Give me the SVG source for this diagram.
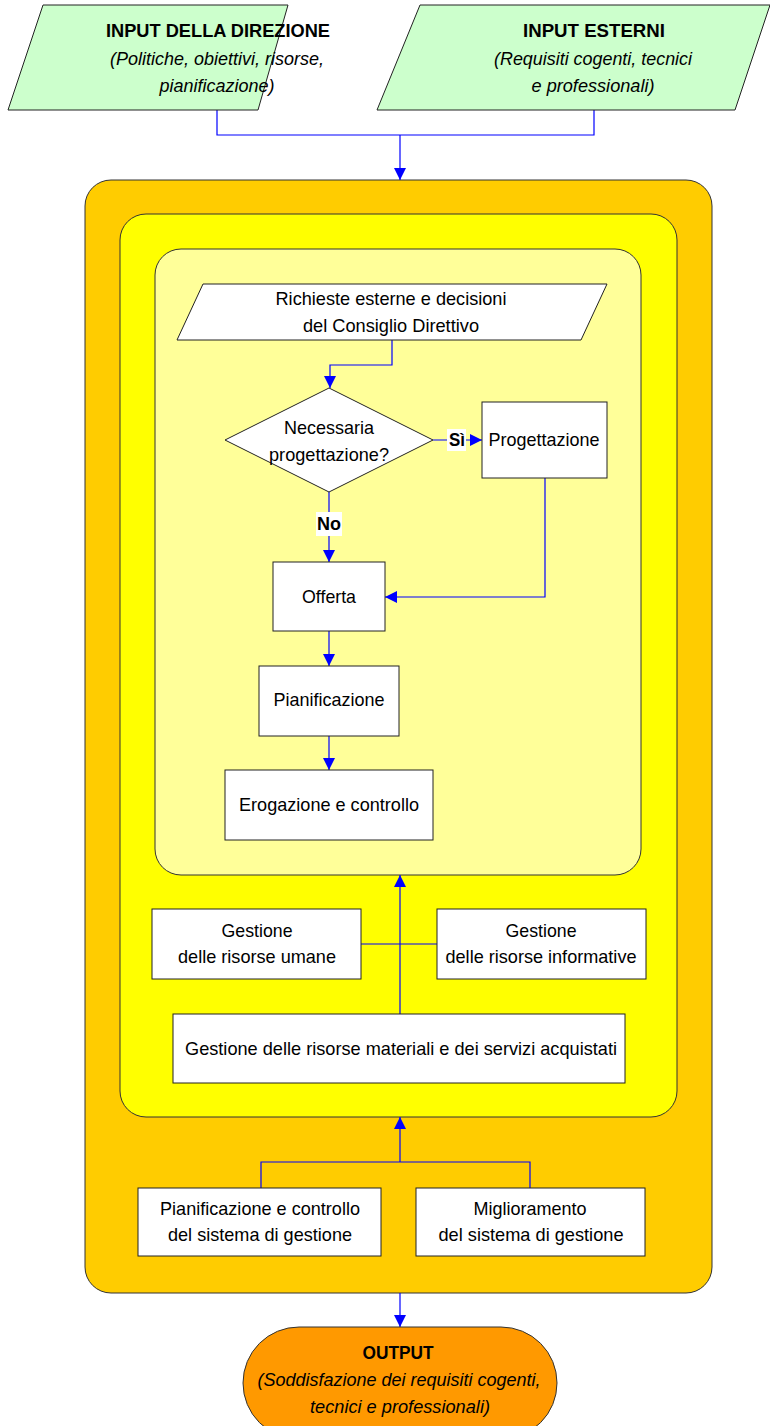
<svg xmlns="http://www.w3.org/2000/svg" width="770" height="1426" viewBox="0 0 770 1426">
<style>
text{font-family:"Liberation Sans Narrow","Arial Narrow","Liberation Sans",sans-serif;font-size:19px;fill:#000;text-anchor:middle}
.b{font-weight:bold}
.i{font-style:italic}
.box{fill:#fff;stroke:#222;stroke-width:1}
.in{fill:#CCFFCC;stroke:#222;stroke-width:1}
.c{fill:none;stroke:#0000FF;stroke-width:1.2}
.lbl{fill:#fff}
</style>
<defs>
<marker id="ah" viewBox="0 0 12 12" refX="12" refY="6" markerWidth="12" markerHeight="12" markerUnits="userSpaceOnUse" orient="auto">
<path d="M0,0 L12,6 L0,12 z" fill="#0000FF"/>
</marker>
</defs>

<g id="container-outer"><rect x="85" y="180" width="627" height="1113" rx="26" fill="#FFCC00" stroke="#333"/></g>
<g id="container-middle"><rect x="120" y="214" width="557" height="903" rx="26" fill="#FFFF00" stroke="#333"/></g>
<g id="container-inner"><rect x="155" y="249" width="486" height="626" rx="26" fill="#FFFF99" stroke="#333"/></g>

<g id="connectors">
<path class="c" d="M217,110 V135 H594 V110"/>
<path class="c" d="M400,135 V180" marker-end="url(#ah)"/>
<path class="c" d="M392,340 V365 H330 V388" marker-end="url(#ah)"/>
<path class="c" d="M433,440 H482" marker-end="url(#ah)"/>
<path class="c" d="M329,492 V562" marker-end="url(#ah)"/>
<path class="c" d="M545,478 V597 H385" marker-end="url(#ah)"/>
<path class="c" d="M329,631 V666" marker-end="url(#ah)"/>
<path class="c" d="M329,736 V770" marker-end="url(#ah)"/>
<path class="c" d="M361,944 H437"/>
<path class="c" d="M400,1014 V875" marker-end="url(#ah)"/>
<path class="c" d="M261,1188 V1162 H530 V1188"/>
<path class="c" d="M400,1162 V1117" marker-end="url(#ah)"/>
<path class="c" d="M400,1293 V1327" marker-end="url(#ah)"/>
<rect class="lbl" x="447" y="429" width="19" height="22"/>
<text class="b" x="457" y="446" textLength="16" lengthAdjust="spacingAndGlyphs">Sì</text>
<rect class="lbl" x="316" y="512" width="26" height="24"/>
<text class="b" x="329" y="530" textLength="24" lengthAdjust="spacingAndGlyphs">No</text>
</g>

<g id="input-direzione">
<polygon class="in" points="43,5 288,5 258,110 8,110"/>
<text class="b" x="218" y="37" textLength="224" lengthAdjust="spacingAndGlyphs">INPUT DELLA DIREZIONE</text>
<text class="i" x="217" y="65" textLength="214" lengthAdjust="spacingAndGlyphs">(Politiche, obiettivi, risorse,</text>
<text class="i" x="217" y="92" textLength="115" lengthAdjust="spacingAndGlyphs">pianificazione)</text>
</g>
<g id="input-esterni">
<polygon class="in" points="420,5 770,5 735,110 377,110"/>
<text class="b" x="594" y="37" textLength="142" lengthAdjust="spacingAndGlyphs">INPUT ESTERNI</text>
<text class="i" x="593" y="65" textLength="198" lengthAdjust="spacingAndGlyphs">(Requisiti cogenti, tecnici</text>
<text class="i" x="593" y="92" textLength="123" lengthAdjust="spacingAndGlyphs">e professionali)</text>
</g>

<g id="richieste">
<polygon class="box" points="203,284 607,284 581,340 177,340"/>
<text x="391" y="305" textLength="231" lengthAdjust="spacingAndGlyphs">Richieste esterne e decisioni</text>
<text x="391" y="332" textLength="176" lengthAdjust="spacingAndGlyphs">del Consiglio Direttivo</text>
</g>
<g id="decisione">
<polygon class="box" points="329,388 433,440 329,492 225,440"/>
<text x="329" y="434" textLength="90" lengthAdjust="spacingAndGlyphs">Necessaria</text>
<text x="329" y="461" textLength="120" lengthAdjust="spacingAndGlyphs">progettazione?</text>
</g>
<g id="progettazione">
<rect class="box" x="482" y="402" width="125" height="76"/>
<text x="544" y="446" textLength="111" lengthAdjust="spacingAndGlyphs">Progettazione</text>
</g>
<g id="offerta">
<rect class="box" x="273" y="562" width="112" height="69"/>
<text x="329" y="603" textLength="54" lengthAdjust="spacingAndGlyphs">Offerta</text>
</g>
<g id="pianificazione">
<rect class="box" x="259" y="666" width="140" height="70"/>
<text x="329" y="706" textLength="111" lengthAdjust="spacingAndGlyphs">Pianificazione</text>
</g>
<g id="erogazione">
<rect class="box" x="225" y="770" width="208" height="70"/>
<text x="329" y="811" textLength="180" lengthAdjust="spacingAndGlyphs">Erogazione e controllo</text>
</g>

<g id="risorse-umane">
<rect class="box" x="152" y="909" width="209" height="70"/>
<text x="257" y="937" textLength="71" lengthAdjust="spacingAndGlyphs">Gestione</text>
<text x="257" y="963" textLength="158" lengthAdjust="spacingAndGlyphs">delle risorse umane</text>
</g>
<g id="risorse-informative">
<rect class="box" x="437" y="909" width="209" height="70"/>
<text x="541" y="937" textLength="71" lengthAdjust="spacingAndGlyphs">Gestione</text>
<text x="541" y="963" textLength="191" lengthAdjust="spacingAndGlyphs">delle risorse informative</text>
</g>
<g id="risorse-materiali">
<rect class="box" x="173" y="1014" width="452" height="69"/>
<text x="401" y="1055" textLength="432" lengthAdjust="spacingAndGlyphs">Gestione delle risorse materiali e dei servizi acquistati</text>
</g>

<g id="pianificazione-sistema">
<rect class="box" x="138" y="1188" width="243" height="68"/>
<text x="260" y="1215" textLength="200" lengthAdjust="spacingAndGlyphs">Pianificazione e controllo</text>
<text x="260" y="1241" textLength="184" lengthAdjust="spacingAndGlyphs">del sistema di gestione</text>
</g>
<g id="miglioramento">
<rect class="box" x="416" y="1188" width="229" height="68"/>
<text x="530" y="1215" textLength="113" lengthAdjust="spacingAndGlyphs">Miglioramento</text>
<text x="531" y="1241" textLength="185" lengthAdjust="spacingAndGlyphs">del sistema di gestione</text>
</g>

<g id="output">
<rect x="243" y="1327" width="314" height="112" rx="56" fill="#FF9900" stroke="#333"/>
<text class="b" x="398" y="1359" textLength="71" lengthAdjust="spacingAndGlyphs">OUTPUT</text>
<text class="i" x="399" y="1386" textLength="283" lengthAdjust="spacingAndGlyphs">(Soddisfazione dei requisiti cogenti,</text>
<text class="i" x="400" y="1413" textLength="180" lengthAdjust="spacingAndGlyphs">tecnici e professionali)</text>
</g>
</svg>
